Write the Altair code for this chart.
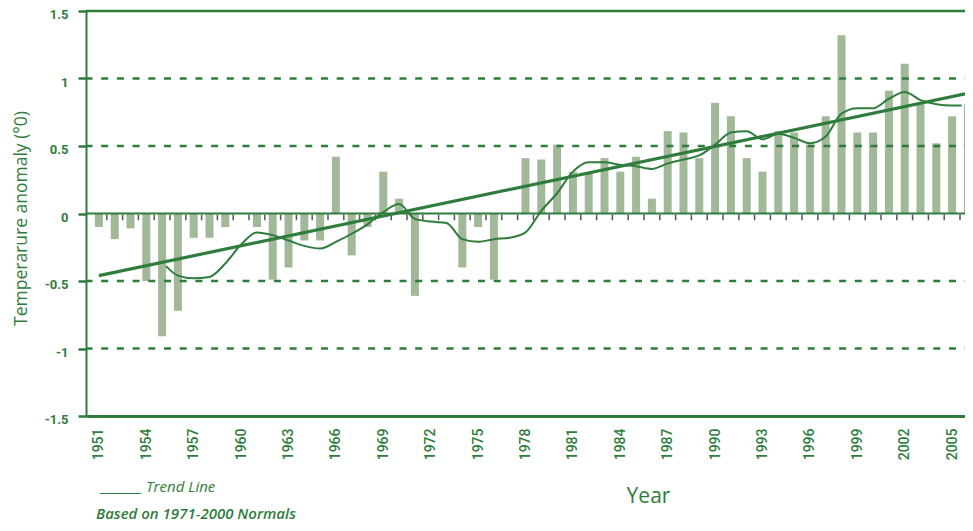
import altair as alt
import pandas as pd

# ---------------- data ----------------
years = list(range(1951, 2007))
anomaly = [
    -0.10, -0.19, -0.11, -0.50, -0.91, -0.72, -0.18, -0.18, -0.10, 0.00,   # 1951-1960
    -0.10, -0.49, -0.40, -0.20, -0.20, 0.42, -0.31, -0.10, 0.31, 0.11,     # 1961-1970
    -0.61, 0.00, 0.00, -0.40, -0.10, -0.49, 0.00, 0.41, 0.40, 0.51,        # 1971-1980
    0.31, 0.30, 0.41, 0.31, 0.42, 0.11, 0.61, 0.60, 0.41, 0.82,            # 1981-1990
    0.72, 0.41, 0.31, 0.61, 0.60, 0.51, 0.72, 1.32, 0.60, 0.60,            # 1991-2000
    0.91, 1.11, 0.81, 0.52, 0.72, 0.81,                                    # 2001-2006
]

smooth_years = [1955.25] + list(range(1956, 2006)) + [2005.6]
smooth_values = [
    -0.39,
    -0.46, -0.48, -0.47, -0.37, -0.23, -0.14, -0.16, -0.20, -0.24, -0.26,  # 1956-1965
    -0.21, -0.15, -0.08, 0.01, 0.07, -0.04, -0.06, -0.07, -0.19, -0.21,    # 1966-1975
    -0.19, -0.18, -0.14, 0.02, 0.15, 0.31, 0.38, 0.38, 0.36, 0.35,         # 1976-1985
    0.33, 0.37, 0.40, 0.43, 0.51, 0.60, 0.61, 0.55, 0.59, 0.56,            # 1986-1995
    0.52, 0.57, 0.74, 0.78, 0.78, 0.85, 0.90, 0.84, 0.81, 0.80,            # 1996-2005
    0.80,
]

trend_years = [1951, 2006]
trend_values = [-0.46, 0.89]

label_years = list(range(1951, 2006, 3))
y_ticks = [-1.5, -1, -0.5, 0, 0.5, 1, 1.5]
dashed_levels = [1, 0.5, -0.5, -1]
top_level = [1.5]
zero_level = [0]
tick_bounds = [y + 0.5 for y in years[:-1]]

GREEN = "#2f7d3c"
BAR = "#a1b899"
TICKGRAY = "#555555"

x_scale = alt.Scale(domain=[1950.5, 2005.5], nice=False, zero=False)
y_scale = alt.Scale(domain=[-1.5, 1.5], nice=False, zero=False)

x_axis = alt.Axis(
    values=label_years, format="d", labelAngle=-90, ticks=False, tickSize=0,
    grid=False, domainColor=GREEN, domainWidth=3, labelColor=GREEN,
    labelFont="Roboto", labelFontSize=14, labelFontWeight=500, labelPadding=12,
    labelFlush=False, labelOverlap=False,
    title="Year", titleX=562, titleY=80, titleFont="Open Sans", titleFontSize=21,
    titleFontWeight="normal", titleColor=GREEN, titleAlign="center", titleBaseline="middle",
)
y_axis = alt.Axis(
    values=y_ticks, labelExpr="'' + datum.value", grid=False,
    domainColor=GREEN, domainWidth=2, tickColor=GREEN, tickWidth=2.5, tickSize=8,
    labelColor=GREEN, labelFont="Roboto", labelFontSize=13, labelFontWeight="bold",
    labelPadding=10, labelOffset=3.5,
    title="Temperarure anomaly (°0)", titleX=-74, titleY=207, titleAngle=270,
    titleFont="Open Sans", titleFontSize=17.5, titleFontWeight="normal", titleColor=GREEN,
    titleAlign="center", titleBaseline="top",
)

bars = alt.Chart(pd.DataFrame({"year": years, "anomaly": anomaly})).mark_bar(
    color=BAR, size=8, clip=True
).encode(
    x=alt.X("year:Q", scale=x_scale, axis=x_axis),
    y=alt.Y("anomaly:Q", scale=y_scale, axis=y_axis),
    y2=alt.datum(0),
)

dashed = alt.Chart(pd.DataFrame({"level": dashed_levels})).mark_rule(
    color=GREEN, strokeWidth=2.6, strokeDash=[7, 8.7], strokeDashOffset=6.7
).encode(y=alt.Y("level:Q", scale=y_scale))

top = alt.Chart(pd.DataFrame({"level": top_level})).mark_rule(
    color=GREEN, strokeWidth=2.5
).encode(y=alt.Y("level:Q", scale=y_scale))

zero = alt.Chart(pd.DataFrame({"level": zero_level})).mark_rule(
    color=GREEN, strokeWidth=2
).encode(y=alt.Y("level:Q", scale=y_scale))

zticks = alt.Chart(pd.DataFrame({"b": tick_bounds})).mark_rule(
    color=TICKGRAY, strokeWidth=1.5, clip=True
).encode(
    x=alt.X("b:Q", scale=x_scale),
    y=alt.datum(-0.008),
    y2=alt.datum(-0.05),
)

trend = alt.Chart(pd.DataFrame({"year": trend_years, "value": trend_values})).mark_line(
    color=GREEN, strokeWidth=3.2, clip=True
).encode(x=alt.X("year:Q", scale=x_scale), y=alt.Y("value:Q", scale=y_scale))

smooth = alt.Chart(pd.DataFrame({"year": smooth_years, "value": smooth_values})).mark_line(
    color=GREEN, strokeWidth=2, interpolate="monotone", clip=True
).encode(x=alt.X("year:Q", scale=x_scale), y=alt.Y("value:Q", scale=y_scale))

legend_txt = alt.Chart(pd.DataFrame({"t": ["_______ Trend Line"]})).mark_text(
    align="left", baseline="alphabetic", font="Open Sans", fontSize=15,
    fontStyle="italic", fontWeight=500, color=GREEN
).encode(text="t:N", x=alt.value(15), y=alt.value(481))

note_txt = alt.Chart(pd.DataFrame({"t": ["Based on 1971-2000 Normals"]})).mark_text(
    align="left", baseline="alphabetic", font="Open Sans", fontSize=15,
    fontStyle="italic", fontWeight=600, color=GREEN
).encode(text="t:N", x=alt.value(10), y=alt.value(508))

chart = alt.layer(
    bars, dashed, top, zero, zticks, trend, smooth, legend_txt, note_txt
).properties(
    width=879, height=405,
    autosize=alt.AutoSizeParams(type="none"),
    padding={"left": 78, "top": 3, "right": 0, "bottom": 107},
    background="white",
).configure_view(stroke=None)

chart.save("out.html", embed_options={"renderer": "svg", "actions": False})
